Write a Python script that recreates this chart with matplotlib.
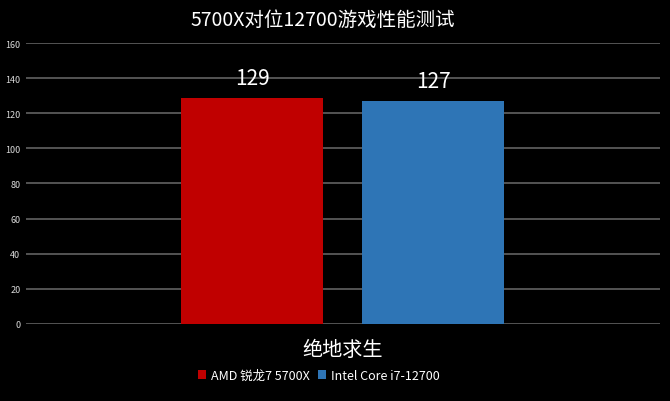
import matplotlib.pyplot as plt

plt.rcParams['font.family'] = ['Noto Sans CJK SC', 'DejaVu Sans']

category = "绝地求生"
series_names = ["AMD 锐龙7 5700X", "Intel Core i7-12700"]
series_values = [129, 127]
series_colors = ["#C00000", "#2E75B6"]
y_ticks = [0, 20, 40, 60, 80, 100, 120, 140, 160]

fig = plt.figure(figsize=(6.7, 4.02), dpi=100, facecolor="black")
ax = fig.add_axes([0.0388, 0.1923, 0.9462, 0.6977], facecolor="black")

width = 0.224
offsets = [-0.1435, 0.1425]
for name, val, col, off in zip(series_names, series_values, series_colors, offsets):
    ax.bar(off, val, width=width, color=col, label=name, zorder=3)
    ax.text(off, val + 5, str(val), ha="center", va="bottom",
            color="white", fontsize=15, zorder=4)

ax.set_xlim(-0.5, 0.5)
ax.set_ylim(0, 160)
ax.set_yticks(y_ticks)
ax.set_yticklabels([str(t) for t in y_ticks], fontsize=6.5, color="#d9d9d9")
ax.tick_params(axis="y", length=0, pad=4)
ax.set_xticks([])
ax.grid(axis="y", color="#6b6b6b", linewidth=1.1, zorder=0)
for s in ax.spines.values():
    s.set_visible(False)

fig.text(0.512, 0.129, category, ha="center", va="center",
         color="white", fontsize=14.5)
fig.text(0.482, 0.95, "5700X对位12700游戏性能测试", ha="center", va="center",
         color="white", fontsize=14)

leg = fig.legend(loc="center", bbox_to_anchor=(0.476, 0.064), ncol=2,
                 frameon=False, fontsize=9, handlelength=0.7, handleheight=0.7,
                 handletextpad=0.4, columnspacing=0.6)
for t in leg.get_texts():
    t.set_color("white")

fig.savefig("out.png", dpi=100, facecolor="black")
